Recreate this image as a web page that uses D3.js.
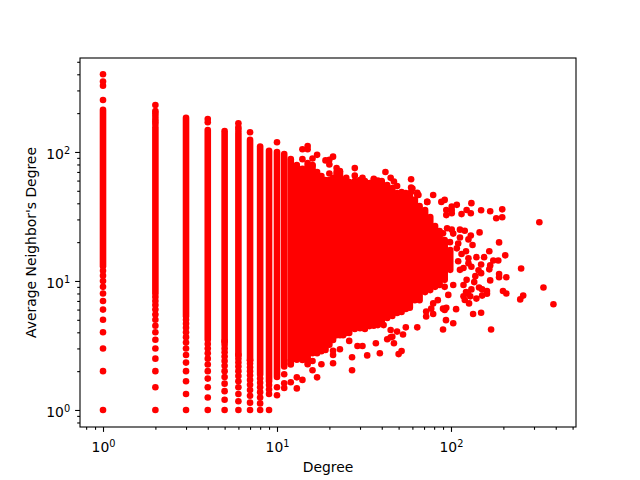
<!DOCTYPE html>
<html>
<head>
<meta charset="utf-8">
<script src="https://cdn.jsdelivr.net/npm/d3@7"></script>
<style>
body { margin: 0; background: #fff; }
text { font-family: "DejaVu Sans", sans-serif; fill: #000; }
</style>
</head>
<body>
<svg width="640" height="480"></svg>
<script>
var marge = { top: 58, bottom: 53, left: 80, right: 64 };

var xLimits = [0.7375, 523];
var yLimits = [0.738, 535];
var majorTicks = [1, 10, 100];
var tickExponents = ["0", "1", "2"];
var minorX = [0.8, 0.9, 2, 3, 4, 5, 6, 7, 8, 9, 20, 30, 40, 50, 60, 70, 80, 90, 200, 300, 400, 500];
var minorY = [0.8, 0.9, 2, 3, 4, 5, 6, 7, 8, 9, 20, 30, 40, 50, 60, 70, 80, 90, 200, 300, 400, 500];

// solid runs of overlapping dots: degree, lowest and highest value of the run
var spanDegree = [1, 2, 3, 4, 5, 6, 7, 8, 9, 10, 11, 12, 13, 14, 15, 16, 17, 18, 19, 20, 21, 22, 23, 24, 25, 26, 28, 30, 32, 34, 36, 38, 40, 43, 46, 49, 52, 55, 58, 62, 66, 71, 76, 81, 86, 92, 99];
var spanLow = [13, 8, 5.33, 3.5, 3.4, 2.67, 2.43, 1.88, 1.67, 1.8, 2.17, 2.44, 2.45, 2.44, 2.37, 2.75, 2.75, 2.85, 2.92, 3.2, 3.49, 3.8, 3.8, 3.8, 3.95, 3.95, 4.24, 4.3, 4.24, 4.47, 4.5, 4.55, 4.8, 5.17, 5.36, 5.65, 5.75, 6.06, 6.2, 7.1, 7.1, 8.2, 8.5, 9, 9.3, 10.2, 12.2];
var spanHigh = [212, 155, 184, 148, 145, 140, 124, 110, 102, 100, 96.5, 88, 79, 74, 82, 78, 70, 65, 60.7, 60.7, 62.9, 70, 70, 60.7, 60, 58.5, 59.6, 60.7, 59.6, 57.5, 60.7, 60, 59.6, 55.5, 52.6, 48, 48.9, 48, 46.4, 42.5, 38, 35.5, 31.3, 26.7, 24.4, 20.8, 17.4];

// single dots that stand clear of the runs
var pointDegree = [
  1, 1, 1, 1, 1, 1, 1, 1, 1, 1, 1, 1, 1, 1, 1, 1,
  2, 2, 2, 2, 2, 2, 2, 2, 2, 2, 2, 2, 2, 2, 2, 2, 2, 2, 2, 2, 2,
  3, 3, 3, 3, 3, 3, 3, 3, 3, 3, 3, 3, 3,
  4, 4, 4, 4, 4, 4, 4, 4, 4, 4, 4, 4,
  5, 5, 5, 5, 5, 5, 5, 5, 5, 5, 5, 5, 5,
  6, 6, 6, 6, 6, 6, 6, 6, 6, 6, 6, 6, 6, 6,
  7, 7, 7, 7, 7, 7, 7, 7, 7, 7, 7, 7,
  8, 8, 8, 8, 8, 8, 8,
  9, 9, 9, 9,
  10, 10, 10,
  11, 11, 11, 12, 12, 12, 12, 13, 13, 14, 14, 14, 15, 15, 15, 16, 16, 16, 16, 17, 17, 18, 19,
  20, 20, 20, 21, 21, 21, 21, 22, 23, 23, 25, 26, 27, 27, 28, 28, 29, 31, 31, 33, 36, 37, 39, 39,
  41, 42, 43, 45, 45, 45, 46, 47, 47, 49, 49, 50, 52, 53, 53, 55, 59, 59, 59, 60, 64, 64, 65,
  60, 64, 72, 72, 73, 73, 77, 79, 79, 79, 84, 88, 90, 90, 90, 92, 92, 92, 93.6, 94, 94, 94, 95, 96.5, 98.7,
  101, 101, 101, 101, 103, 103, 103, 107, 108, 108, 110, 110, 112.6, 112.6, 112.6, 115, 115, 118, 118, 118,
  120, 120, 122, 122, 123, 123, 125, 126, 126, 126, 127, 129, 130, 130, 131, 131, 131, 133, 134, 136, 138,
  140, 140, 144, 145, 146, 149, 149, 149, 149, 151, 151, 155, 161, 161, 166, 166, 168, 168, 168, 170, 175,
  182, 187, 189, 189, 189, 197, 197, 199, 205, 208, 208, 250, 253, 260, 322, 340, 388
];
var pointValue = [
  1, 2, 3, 4, 5, 6, 7, 8, 9, 10, 11, 12, 253, 326, 351, 400,
  1, 1.5, 2, 2.5, 3, 3.5, 4, 4.5, 5, 5.5, 6, 6.5, 7, 7.5, 172, 180, 190, 200, 208, 231, 165,
  1, 1.33, 1.67, 2, 2.33, 2.67, 3, 3.33, 3.67, 4, 4.33, 4.67, 5,
  1, 1.25, 1.5, 1.75, 2, 2.25, 2.5, 2.75, 3, 3.25, 170, 180,
  1, 1.2, 1.4, 1.6, 1.8, 2, 2.2, 2.4, 2.6, 2.8, 3, 3.2, 3.4,
  1, 1.17, 1.33, 1.5, 1.67, 1.83, 2, 2.17, 2.33, 2.5, 2.67, 148, 155, 167,
  1, 1.14, 1.29, 1.43, 1.57, 1.71, 1.86, 2, 2.14, 2.29, 2.43, 142,
  1, 1.125, 1.25, 1.375, 1.5, 1.625, 1.75,
  1, 1.33, 1.44, 1.56,
  1.3, 1.5, 119,
  1.48, 1.61, 1.89, 1.64, 2.25, 2.3, 2.4, 1.47, 1.79, 1.71, 88, 105, 2.26, 105, 111, 2.03, 2.4, 79, 89, 1.79, 95, 2.26, 86,
  68, 80, 87, 2.3, 2.67, 2.88, 92, 75, 2.96, 71, 63, 3.43, 2.03, 2.56, 65.5, 75, 3.13, 3.13, 63, 2.65, 62, 3.29, 2.75, 59,
  4.55, 70, 3.53, 3.66, 4.17, 63, 3.7, 3.29, 59, 4.05, 54.5, 2.71, 2.86, 3.85, 47, 4.37, 49, 53, 61.4, 42.5, 4.37, 48.3, 46.4,
  52, 46.4, 5.3, 5.8, 41, 41, 6.1, 5.55, 6.7, 46.4, 7.1, 41, 4.2, 6.1, 23.4, 5.96, 9, 42.5, 4.97, 6.2, 32.4, 35.5, 25.6, 7.8, 20,
  33.5, 35.5, 37.8, 25, 4.7, 9.3, 23.3, 6.05, 17.9, 38.9, 14.2, 19.5, 12.2, 21.7, 25, 16.2, 33, 9.3, 12.6, 7.6,
  7.12, 24.5, 8.2, 17, 10.2, 35.5, 8, 13.7, 15, 21, 6.7, 7.6, 22.5, 33.5, 8.6, 12.9, 40.1, 19, 5.55, 9.8, 10.9,
  7.3, 15.3, 12.1, 8.9, 23.8, 5.67, 11.5, 13.4, 35.3, 7.7, 8.6, 15.3, 7.95, 8.35, 12.3, 17, 10.1, 13.2, 34.7, 4.2, 14.4,
  30.6, 14.4, 10.7, 11.3, 19.9, 31.2, 35.9, 8.35, 15.8, 8, 10.7, 7.2, 12.5, 7.7, 28.5, 8.9, 6.6
];

var svg = d3.select("svg");
var width = +svg.attr("width");
var height = +svg.attr("height");

var x = d3.scaleLog().domain(xLimits).range([marge.left, width - marge.right]);
var y = d3.scaleLog().domain(yLimits).range([height - marge.bottom, marge.top]);

var red = "#ff0000";

// runs
svg.append("g")
  .selectAll("line")
  .data(spanDegree)
  .enter()
  .append("line")
  .attr("x1", function (d) { return x(d); })
  .attr("x2", function (d) { return x(d); })
  .attr("y1", function (d, i) { return y(spanLow[i]); })
  .attr("y2", function (d, i) { return y(spanHigh[i]); })
  .attr("stroke", red)
  .attr("stroke-width", 6.6)
  .attr("stroke-linecap", "round");

// dots
svg.append("g")
  .selectAll("circle")
  .data(pointDegree)
  .enter()
  .append("circle")
  .attr("cx", function (d) { return x(d); })
  .attr("cy", function (d, i) { return y(pointValue[i]); })
  .attr("r", 3.3)
  .attr("fill", red);

// axes
function tickLabel(sel, dy) {
  sel.selectAll("text").each(function (d, i) {
    var t = d3.select(this);
    t.attr("font-size", "13.9px").attr("dy", dy).text("10");
    t.append("tspan")
      .attr("dy", "-0.45em")
      .attr("font-size", "9.8px")
      .text(tickExponents[i]);
  });
}

var xAxis = d3.axisBottom(x).tickValues(majorTicks).tickSize(4.9).tickPadding(4.9);
var yAxis = d3.axisLeft(y).tickValues(majorTicks).tickSize(4.9).tickPadding(4.9);
var xMinor = d3.axisBottom(x).tickValues(minorX).tickSize(2.8).tickFormat("");
var yMinor = d3.axisLeft(y).tickValues(minorY).tickSize(2.8).tickFormat("");

var bottomY = height - marge.bottom;
svg.append("g").attr("transform", "translate(0," + bottomY + ")").call(xMinor);
var gxMajor = svg.append("g").attr("transform", "translate(0," + bottomY + ")").call(xAxis);
tickLabel(gxMajor, "1.07em");

svg.append("g").attr("transform", "translate(" + marge.left + ",0)").call(yMinor);
var gyMajor = svg.append("g").attr("transform", "translate(" + marge.left + ",0)").call(yAxis);
tickLabel(gyMajor, "0.46em");

svg.selectAll(".domain").remove();
svg.selectAll(".tick line").attr("stroke", "#000").attr("stroke-width", 1.1);

// frame
svg.append("rect")
  .attr("x", marge.left)
  .attr("y", marge.top)
  .attr("width", width - marge.left - marge.right)
  .attr("height", height - marge.top - marge.bottom)
  .attr("fill", "none")
  .attr("stroke", "#000")
  .attr("stroke-width", 1.1);

svg.append("text")
  .attr("x", 328)
  .attr("y", 472)
  .attr("text-anchor", "middle")
  .attr("font-size", "13.9px")
  .text("Degree");

svg.append("text")
  .attr("transform", "translate(36,242.5) rotate(-90)")
  .attr("text-anchor", "middle")
  .attr("font-size", "13.9px")
  .text("Average Neighbor's Degree");
</script>
</body>
</html>
